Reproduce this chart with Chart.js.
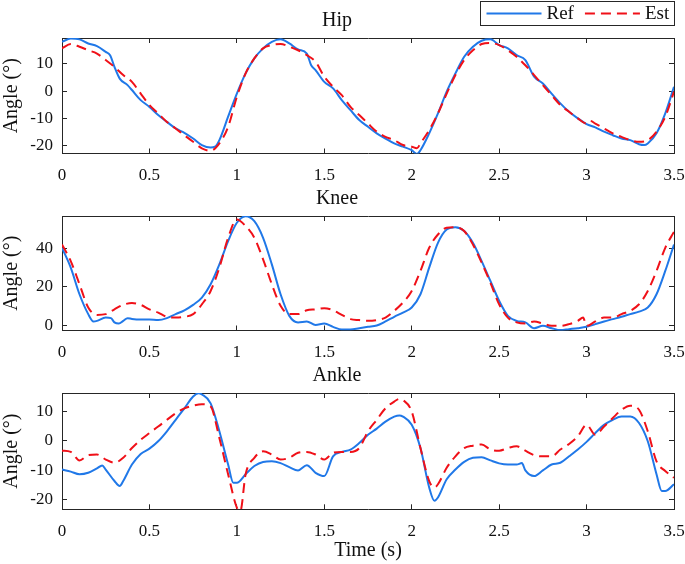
<html>
  <head>
    <script src="https://cdn.jsdelivr.net/npm/chart.js@4.4.0/dist/chart.umd.min.js"></script>
  </head>
  <body>
    <div id="page">
      <div class="panel" id="hipBox"><canvas id="hip"></canvas></div>
      <div class="panel" id="kneeBox"><canvas id="knee"></canvas></div>
      <div class="panel" id="ankleBox"><canvas id="ankle"></canvas></div>
    </div>
    <script>
      // time axis ticks shared by all three panels
      const timeTicks = [0, 0.5, 1, 1.5, 2, 2.5, 3, 3.5];

      // Hip
      const hipRefT = [0, 0.05, 0.1, 0.15, 0.2, 0.25, 0.275, 0.3, 0.33, 0.375, 0.4, 0.45, 0.5, 0.55, 0.6, 0.65, 0.7, 0.75, 0.8, 0.85, 0.875, 0.9, 0.95, 1, 1.05, 1.1, 1.15, 1.2, 1.25, 1.3, 1.35, 1.4, 1.425, 1.45, 1.5, 1.55, 1.6, 1.65, 1.7, 1.75, 1.8, 1.85, 1.9, 1.95, 2, 2.03, 2.05, 2.1, 2.15, 2.2, 2.25, 2.3, 2.35, 2.4, 2.45, 2.5, 2.55, 2.6, 2.65, 2.7, 2.75, 2.8, 2.85, 2.9, 2.95, 3, 3.05, 3.1, 3.15, 3.2, 3.25, 3.3, 3.33, 3.35, 3.4, 3.45, 3.5];
      const hipRef = [18.1, 19.3, 19, 17.5, 16.5, 14.4, 13.2, 8.9, 4.6, 2.2, 0.4, -3.3, -5.8, -8.8, -11.3, -13.7, -15.3, -17.4, -19.8, -20.7, -20.4, -18, -9.4, -0.9, 6.5, 12, 15.7, 18.1, 19, 17.5, 15.3, 13.8, 9.5, 7.7, 3.4, 1, -3.3, -7, -10.6, -13.1, -15.5, -17.4, -19.2, -20.4, -21.7, -23.1, -21.7, -15.5, -8.2, -0.2, 6.5, 12.6, 16.3, 18.5, 19, 16.9, 15.7, 13.2, 11.4, 5.3, 2.8, -0.9, -4.5, -7.6, -10, -12.1, -13.3, -14.9, -16.2, -17.4, -18, -19.5, -19.8, -19.2, -15.5, -8.2, 1.6];
      const hipEstT = [0, 0.05, 0.1, 0.15, 0.2, 0.25, 0.3, 0.35, 0.4, 0.45, 0.5, 0.55, 0.6, 0.65, 0.7, 0.75, 0.8, 0.85, 0.9, 0.95, 1, 1.05, 1.1, 1.15, 1.2, 1.25, 1.3, 1.35, 1.4, 1.45, 1.5, 1.55, 1.6, 1.65, 1.7, 1.75, 1.8, 1.85, 1.9, 1.95, 2, 2.03, 2.05, 2.1, 2.15, 2.2, 2.25, 2.3, 2.35, 2.4, 2.45, 2.5, 2.55, 2.6, 2.65, 2.7, 2.75, 2.8, 2.85, 2.9, 2.95, 3, 3.02, 3.05, 3.1, 3.15, 3.2, 3.25, 3.3, 3.35, 3.4, 3.45, 3.5];
      const hipEst = [15.7, 17.3, 16.3, 15, 13.8, 11.4, 8.9, 5.9, 3.4, -0.9, -5.1, -8.2, -11.3, -13.7, -16.2, -18.6, -21, -21.9, -19.2, -13.1, -2.1, 6.5, 12, 15.7, 16.9, 17.3, 16.3, 15, 13.2, 10.8, 5.3, 1.6, -1.5, -5.8, -8.8, -11.9, -14.9, -16.8, -18, -19.8, -20.4, -21, -19.2, -14.3, -8.2, -0.9, 5.9, 11.4, 15, 17.3, 17.7, 16.9, 15, 12.6, 9.5, 5.9, 2.2, -1.5, -5.1, -7.6, -10, -11.9, -10.9, -11.9, -13.7, -15.5, -16.8, -18, -18.6, -18, -14.9, -9.4, -0.2];
      const hipTicks = [-20, -10, 0, 10];

      // Knee
      const kneeRefT = [0, 0.05, 0.1, 0.15, 0.18, 0.2, 0.25, 0.28, 0.3, 0.325, 0.35, 0.375, 0.4, 0.45, 0.5, 0.55, 0.6, 0.65, 0.7, 0.75, 0.8, 0.85, 0.9, 0.95, 1, 1.05, 1.1, 1.15, 1.2, 1.25, 1.3, 1.35, 1.4, 1.45, 1.5, 1.55, 1.6, 1.65, 1.7, 1.75, 1.8, 1.85, 1.9, 1.95, 2, 2.05, 2.1, 2.15, 2.2, 2.25, 2.3, 2.35, 2.4, 2.45, 2.5, 2.55, 2.6, 2.65, 2.7, 2.75, 2.8, 2.85, 2.9, 2.95, 3, 3.05, 3.1, 3.15, 3.2, 3.25, 3.3, 3.35, 3.4, 3.45, 3.5];
      const kneeRef = [40.3, 30, 16.2, 5.9, 2.1, 2.4, 4.1, 3.8, 1.6, 1, 2.4, 3.8, 3.4, 3.1, 3.1, 2.8, 3.8, 5.9, 7.9, 10.7, 14.5, 21.4, 31.7, 43.8, 53.3, 56.7, 54.1, 45.5, 31.7, 16.2, 5, 1.6, 2.1, 0.3, 1, -0.7, -2.1, -2.1, -1.4, -0.7, 0, 2.1, 4.5, 6.7, 9.3, 16.2, 30, 42.9, 49.8, 51, 49, 42.9, 33.4, 23.1, 12.8, 5, 2.4, 1.6, -1.4, -0.2, -1.4, -2.4, -1.9, -1.4, -0.7, 0.7, 2.1, 3.3, 4.5, 5.9, 7.2, 9.3, 16.2, 28.3, 42];
      const kneeEstT = [0, 0.05, 0.1, 0.15, 0.2, 0.25, 0.3, 0.35, 0.4, 0.45, 0.5, 0.55, 0.6, 0.65, 0.7, 0.75, 0.8, 0.85, 0.9, 0.95, 1, 1.05, 1.1, 1.15, 1.2, 1.25, 1.3, 1.35, 1.4, 1.45, 1.5, 1.55, 1.6, 1.65, 1.7, 1.75, 1.8, 1.85, 1.9, 1.95, 2, 2.05, 2.1, 2.15, 2.2, 2.25, 2.3, 2.35, 2.4, 2.45, 2.5, 2.55, 2.6, 2.65, 2.7, 2.75, 2.8, 2.85, 2.9, 2.95, 2.98, 3, 3.05, 3.1, 3.15, 3.2, 3.25, 3.3, 3.35, 3.4, 3.45, 3.5];
      const kneeEst = [42, 33.4, 21.4, 9.3, 5.5, 5.9, 8.4, 10.7, 11.7, 10.7, 8.4, 6.7, 4.5, 4.1, 4.5, 5.9, 11, 17.9, 30, 45.5, 55, 51.6, 45.5, 34.3, 21.4, 10.2, 5.9, 5.9, 7.9, 8.4, 9, 7.9, 5.5, 3.3, 2.8, 2.4, 2.8, 4.1, 7.6, 11.9, 17.9, 28.3, 40.3, 47.2, 50.7, 51, 49, 42, 32.6, 22.2, 11, 4.1, 1.6, 1, 2.1, 1, -0.2, -0.2, 0.7, 2.4, 4.1, -0.2, 2.1, 4.1, 4.1, 5.9, 7.6, 11, 17.9, 28.3, 40.3, 48.6];
      const kneeTicks = [0, 20, 40];

      // Ankle
      const ankleRefT = [0, 0.05, 0.1, 0.15, 0.2, 0.23, 0.25, 0.3, 0.33, 0.35, 0.4, 0.45, 0.5, 0.55, 0.6, 0.65, 0.7, 0.75, 0.78, 0.8, 0.85, 0.9, 0.95, 0.98, 1, 1.05, 1.1, 1.15, 1.2, 1.25, 1.3, 1.35, 1.4, 1.45, 1.5, 1.55, 1.6, 1.65, 1.7, 1.75, 1.8, 1.85, 1.9, 1.93, 1.95, 2, 2.05, 2.1, 2.13, 2.15, 2.2, 2.25, 2.3, 2.35, 2.4, 2.45, 2.5, 2.55, 2.6, 2.63, 2.65, 2.7, 2.75, 2.8, 2.85, 2.9, 2.95, 3, 3.05, 3.1, 3.15, 3.2, 3.25, 3.3, 3.35, 3.4, 3.43, 3.45, 3.5];
      const ankleRef = [-9.7, -10.4, -11.3, -10.8, -9.3, -8.3, -9.7, -13.6, -15.3, -13.6, -8, -4.4, -2.6, -0.1, 3.3, 7.2, 11.1, 15.1, 16.2, 15.8, 12.8, 3.3, -8, -14.2, -14.2, -11.3, -8.5, -7.1, -6.9, -7.5, -8.9, -10, -8.2, -10.8, -11.9, -5.2, -3.7, -2.9, -0.7, 2.1, 4.2, 6.6, 8.3, 8.7, 8.3, 5.5, -2.4, -15.8, -20.3, -19.2, -13, -9.7, -7.1, -5.7, -5.5, -6.6, -7.6, -8, -8, -7.5, -10, -11.9, -10, -8, -7.4, -5.2, -2.9, -0.3, 2.7, 5.5, 7.2, 8.3, 8.3, 6.1, -0.1, -11.3, -17, -17, -14.7];
      const ankleEstT = [0, 0.05, 0.1, 0.15, 0.2, 0.25, 0.3, 0.35, 0.4, 0.45, 0.5, 0.55, 0.6, 0.65, 0.7, 0.75, 0.8, 0.85, 0.9, 0.95, 1, 1.02, 1.05, 1.1, 1.15, 1.2, 1.25, 1.3, 1.35, 1.4, 1.45, 1.5, 1.55, 1.6, 1.65, 1.7, 1.75, 1.8, 1.85, 1.9, 1.93, 1.95, 2, 2.05, 2.1, 2.13, 2.15, 2.2, 2.25, 2.3, 2.35, 2.4, 2.45, 2.5, 2.55, 2.6, 2.65, 2.7, 2.75, 2.8, 2.85, 2.9, 2.95, 3, 3.05, 3.1, 3.15, 3.2, 3.25, 3.3, 3.35, 3.4, 3.45, 3.5];
      const ankleEst = [-3.3, -3.7, -6.6, -4.8, -4.6, -6.3, -7.4, -5.7, -2.4, 0.4, 2.7, 4.9, 7.2, 9.4, 11.1, 12, 12.5, 11.7, 1, -11.3, -22.6, -23.7, -11.3, -5.7, -3.5, -4.6, -6.3, -5.7, -4, -3.7, -4.6, -6.3, -4, -3.7, -3.7, -2.4, 3.3, 7.2, 11.1, 13.4, 14.3, 13.9, 10, -2.4, -13.6, -15.8, -14.7, -9.1, -5.2, -2.4, -1.6, -1.2, -2.9, -3.3, -2.4, -1.8, -3.3, -4.8, -5.2, -5.2, -2.9, -1, 1.6, 5.5, 2.1, 4.9, 7.8, 10.6, 12, 10.6, 3.3, -6.9, -10.2, -12.5];
      const ankleTicks = [-20, -10, 0, 10];

      const FONT = "'Liberation Serif', 'Times New Roman', serif";
      const AXIS = '#262626';
      const TEXT = '#111111';
      const BLUE = 'rgb(32, 120, 232)';
      const RED = 'rgb(240, 16, 24)';
      const DASH = [10, 6];

      function toPoints(t, y) {
        return t.map(function(v, i) { return { x: v, y: y[i] }; });
      }

      // draws the Ref/Est legend box in the top right corner of the page
      const legendBox = {
        id: 'legendBox',
        afterDraw(chart) {
          const ctx = chart.ctx;
          const left = 480.5, right = 674.5, top = 1.5, bottom = 25.5;
          const mid = (top + bottom) / 2;
          ctx.save();
          ctx.fillStyle = '#ffffff';
          ctx.fillRect(left, top, right - left, bottom - top);
          ctx.strokeStyle = AXIS;
          ctx.lineWidth = 1;
          ctx.strokeRect(left, top, right - left, bottom - top);
          ctx.font = '19px ' + FONT;
          ctx.textBaseline = 'middle';
          ctx.fillStyle = TEXT;
          let x = left + 6;
          chart.data.datasets.forEach(function(ds, i) {
            ctx.strokeStyle = ds.borderColor;
            ctx.lineWidth = ds.borderWidth;
            ctx.setLineDash(ds.borderDash || []);
            ctx.beginPath();
            ctx.moveTo(x, mid);
            ctx.lineTo(x + 55, mid);
            ctx.stroke();
            ctx.setLineDash([]);
            ctx.fillText(ds.label, x + 60, mid + 1);
            x += 60 + ctx.measureText(ds.label).width + 11;
          });
          ctx.restore();
        }
      };

      function makePanel(id, title, refT, ref, estT, est, yMin, yMax, yTicks, xAxisH, showXTitle, withLegend) {
        const setTimeTicks = function(s) { s.ticks = timeTicks.map(function(v) { return { value: v }; }); };
        const setYTicks = function(s) { s.ticks = yTicks.map(function(v) { return { value: v }; }); };
        const grid = { drawOnChartArea: false, drawTicks: true, tickLength: -5, color: AXIS, tickColor: AXIS, lineWidth: 1 };
        const border = { display: true, color: AXIS, width: 1 };
        const tickFont = { family: FONT, size: 17 };
        const labelFont = { family: FONT, size: 20 };

        return new Chart(id, {
          type: 'line',
          plugins: withLegend ? [legendBox] : [],
          data: {
            datasets: [
              {
                label: 'Ref',
                data: toPoints(refT, ref),
                borderColor: BLUE,
                borderWidth: 2,
                pointRadius: 0,
                cubicInterpolationMode: 'monotone',
                order: 1
              },
              {
                label: 'Est',
                data: toPoints(estT, est),
                borderColor: RED,
                borderWidth: 2,
                borderDash: DASH,
                pointRadius: 0,
                cubicInterpolationMode: 'monotone',
                order: 0
              }
            ]
          },
          options: {
            responsive: true,
            maintainAspectRatio: false,
            animation: false,
            layout: { padding: { left: 0, right: 11, top: 0, bottom: 0 } },
            plugins: {
              legend: { display: false },
              tooltip: { enabled: false },
              title: {
                display: true,
                text: title,
                color: TEXT,
                font: { family: FONT, size: 20, weight: 'normal' },
                padding: { top: 9, bottom: 5 }
              }
            },
            scales: {
              x: {
                type: 'linear', position: 'bottom', min: 0, max: 3.5,
                afterBuildTicks: setTimeTicks,
                afterFit: function(s) { s.height = xAxisH; s.paddingLeft = 0; s.paddingRight = 0; },
                grid: grid, border: border,
                ticks: { font: tickFont, color: TEXT, padding: 17, maxRotation: 0, autoSkip: false,
                         callback: function(v) { return String(v); } },
                title: { display: showXTitle, text: 'Time (s)', color: TEXT, font: labelFont, padding: { top: 0, bottom: 1 } }
              },
              x2: {
                type: 'linear', axis: 'x', position: 'top', min: 0, max: 3.5,
                afterBuildTicks: setTimeTicks,
                afterFit: function(s) { s.height = 0; s.paddingLeft = 0; s.paddingRight = 0; },
                grid: grid, border: border,
                ticks: { display: false }
              },
              y: {
                type: 'linear', position: 'left', min: yMin, max: yMax,
                afterBuildTicks: setYTicks,
                afterFit: function(s) { s.width = 62; },
                grid: grid, border: border,
                ticks: { font: tickFont, color: TEXT, padding: 14 },
                title: { display: true, text: 'Angle (°)', color: TEXT, font: labelFont, padding: { top: 0, bottom: 0 } }
              },
              y2: {
                type: 'linear', axis: 'y', position: 'right', min: yMin, max: yMax,
                afterBuildTicks: setYTicks,
                afterFit: function(s) { s.width = 0; },
                grid: grid, border: border,
                ticks: { display: false }
              }
            }
          }
        });
      }

      makePanel('hip', 'Hip', hipRefT, hipRef, hipEstT, hipEst, -22.9, 19.5, hipTicks, 36.5, false, true);
      makePanel('knee', 'Knee', kneeRefT, kneeRef, kneeEstT, kneeEst, -2.6, 56.8, kneeTicks, 36.5, false, false);
      makePanel('ankle', 'Ankle', ankleRefT, ankleRef, ankleEstT, ankleEst, -23.2, 16.3, ankleTicks, 54.7, true, false);
    </script>
  </body>
  <style>
    body { margin: 0; background: #ffffff; }
    #page { position: relative; width: 685px; height: 564px; overflow: hidden; }
    .panel { position: absolute; left: 0; width: 685px; }
    #hipBox { top: 0; height: 190px; }
    #kneeBox { top: 178px; height: 189px; }
    #ankleBox { top: 355px; height: 209px; }
  </style>
</html>
